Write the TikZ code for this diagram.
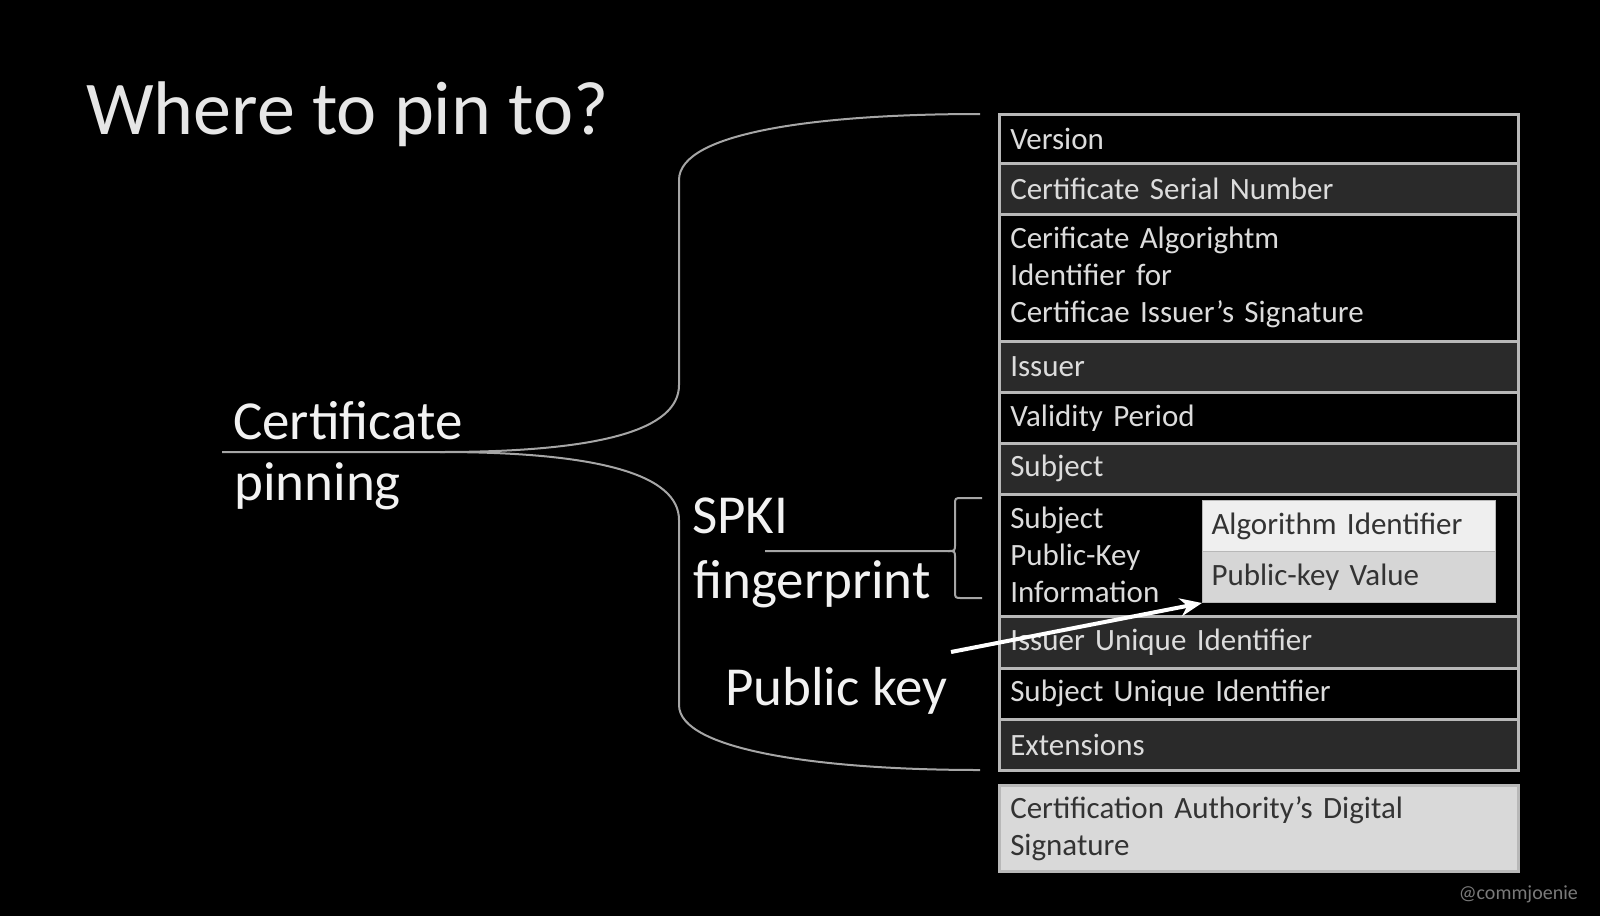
\documentclass[tikz,border=0pt]{standalone}
\usepackage{fontspec}
\setmainfont{Carlito}
\usetikzlibrary{arrows.meta}
\definecolor{titlecol}{HTML}{E6E6E6}
\definecolor{labcol}{HTML}{F2F2F2}
\definecolor{bracecol}{HTML}{A6A6A6}
\definecolor{rowline}{HTML}{B8B8B8}
\definecolor{rowdark}{HTML}{2A2A2A}
\definecolor{rowtext}{HTML}{DCDCDC}
\definecolor{lightfill}{HTML}{D9D9D9}
\definecolor{lighttext}{HTML}{333333}
\definecolor{innertop}{HTML}{EFEFEF}
\definecolor{innerbot}{HTML}{D6D6D6}
\definecolor{markcol}{HTML}{7A7A7A}
\begin{document}
\begin{tikzpicture}[x=1pt,y=-1pt,
  rowbox/.style={draw=rowline, line width=2.5pt, minimum width=519pt, text width=497pt,
    inner xsep=11pt, inner ysep=0pt, align=left, anchor=north west,
    font=\fontsize{31}{37}\selectfont, text=rowtext},
  darkrow/.style={rowbox, fill=rowdark},
  blackrow/.style={rowbox, fill=black},
  innerbox/.style={draw=rowline, line width=1pt, minimum width=293pt, text width=275pt,
    inner xsep=9pt, inner ysep=0pt, align=left, anchor=north west, minimum height=51pt,
    font=\fontsize{31}{37}\selectfont, text=lighttext},
  biglabel/.style={anchor=base west, inner sep=0pt, text=labcol, font=\fontsize{55}{60}\selectfont},
  brace/.style={draw=bracecol, line width=2pt},
  pkarrow/.style={draw=white, line width=4pt, -{Stealth[length=22pt,width=18pt]}}
]
\fill[black] (0,0) rectangle (1600,916);
\useasboundingbox (0,0) rectangle (1600,916);

% title
\node[anchor=base west, inner sep=0pt, text=titlecol, font=\fontsize{76}{80}\selectfont] (title) at (86,134) {Where to pin to?};

% certificate fields
\node[blackrow, minimum height=49pt] (r1) at (998,113) {Version};
\node[darkrow, minimum height=51pt] (r2) at (998,162) {Certificate Serial Number};
\node[blackrow, minimum height=127pt] (r3) at (998,213) {Cerificate Algorightm\\Identifier for\\Certificae Issuer’s Signature};
\node[darkrow, minimum height=51pt] (r4) at (998,340) {Issuer};
\node[blackrow, minimum height=51pt] (r5) at (998,391) {Validity Period};
\node[darkrow, minimum height=51pt] (r6) at (998,442) {Subject};
\node[blackrow, minimum height=122pt] (r7) at (998,493) {Subject\\Public-Key\\Information};
\node[darkrow, minimum height=52pt] (r8) at (998,615) {Issuer Unique Identifier};
\node[blackrow, minimum height=51pt] (r9) at (998,667) {Subject Unique Identifier};
\node[darkrow, minimum height=51pt] (r10) at (998,718) {Extensions};
\node[rowbox, fill=lightfill, text=lighttext, minimum height=86pt] (ca) at (998,784) {Certification Authority’s Digital\\Signature};

% SPKI inner box
\node[innerbox, fill=innertop] (alg) at (1202,500) {Algorithm Identifier};
\node[innerbox, fill=innerbot] (pkv) at (1202,551) {Public-key Value};

% labels
\node[biglabel] (cert) at (233,439) {Certificate};
\node[biglabel] (pin) at (234,500) {pinning};
\node[biglabel] (spki) at (692,533) {SPKI};
\node[biglabel] (fp) at (693,598) {fingerprint};
\node[biglabel] (pk) at (725,705) {Public key};

% main brace
\coordinate (cpL) at (222,452);
\coordinate (cpM) at (440,452);
\coordinate (bTop) at (980,114);
\coordinate (bBot) at (980,770);
\draw[brace] (cpL) -- (cpM) .. controls (600,452) and (679,430) .. (679,385)
  -- (679,180) .. controls (679,132) and (820,114) .. (bTop);
\draw[brace] (cpM) .. controls (600,452) and (679,475) .. (679,520)
  -- (679,705) .. controls (679,750) and (820,770) .. (bBot);

% SPKI brace
\coordinate (sT) at (982,498);
\coordinate (sB) at (982,598);
\coordinate (sL) at (765,551);
\draw[brace] (sT) -- (962,498) .. controls (955,498) .. (955,505) -- (955,544)
  .. controls (955,551) .. (948,551) -- (sL);
\draw[brace] (sB) -- (962,598) .. controls (955,598) .. (955,591) -- (955,558)
  .. controls (955,551) .. (948,551);

% arrow
\coordinate (pkstart) at (951,652);
\draw[pkarrow] (pkstart) -- (pkv.south west);

% watermark
\node[anchor=base east, inner sep=0pt, text=markcol, font=\fontsize{20}{22}\selectfont] (mark) at (1578,899) {@commjoenie};
\end{tikzpicture}
\end{document}
